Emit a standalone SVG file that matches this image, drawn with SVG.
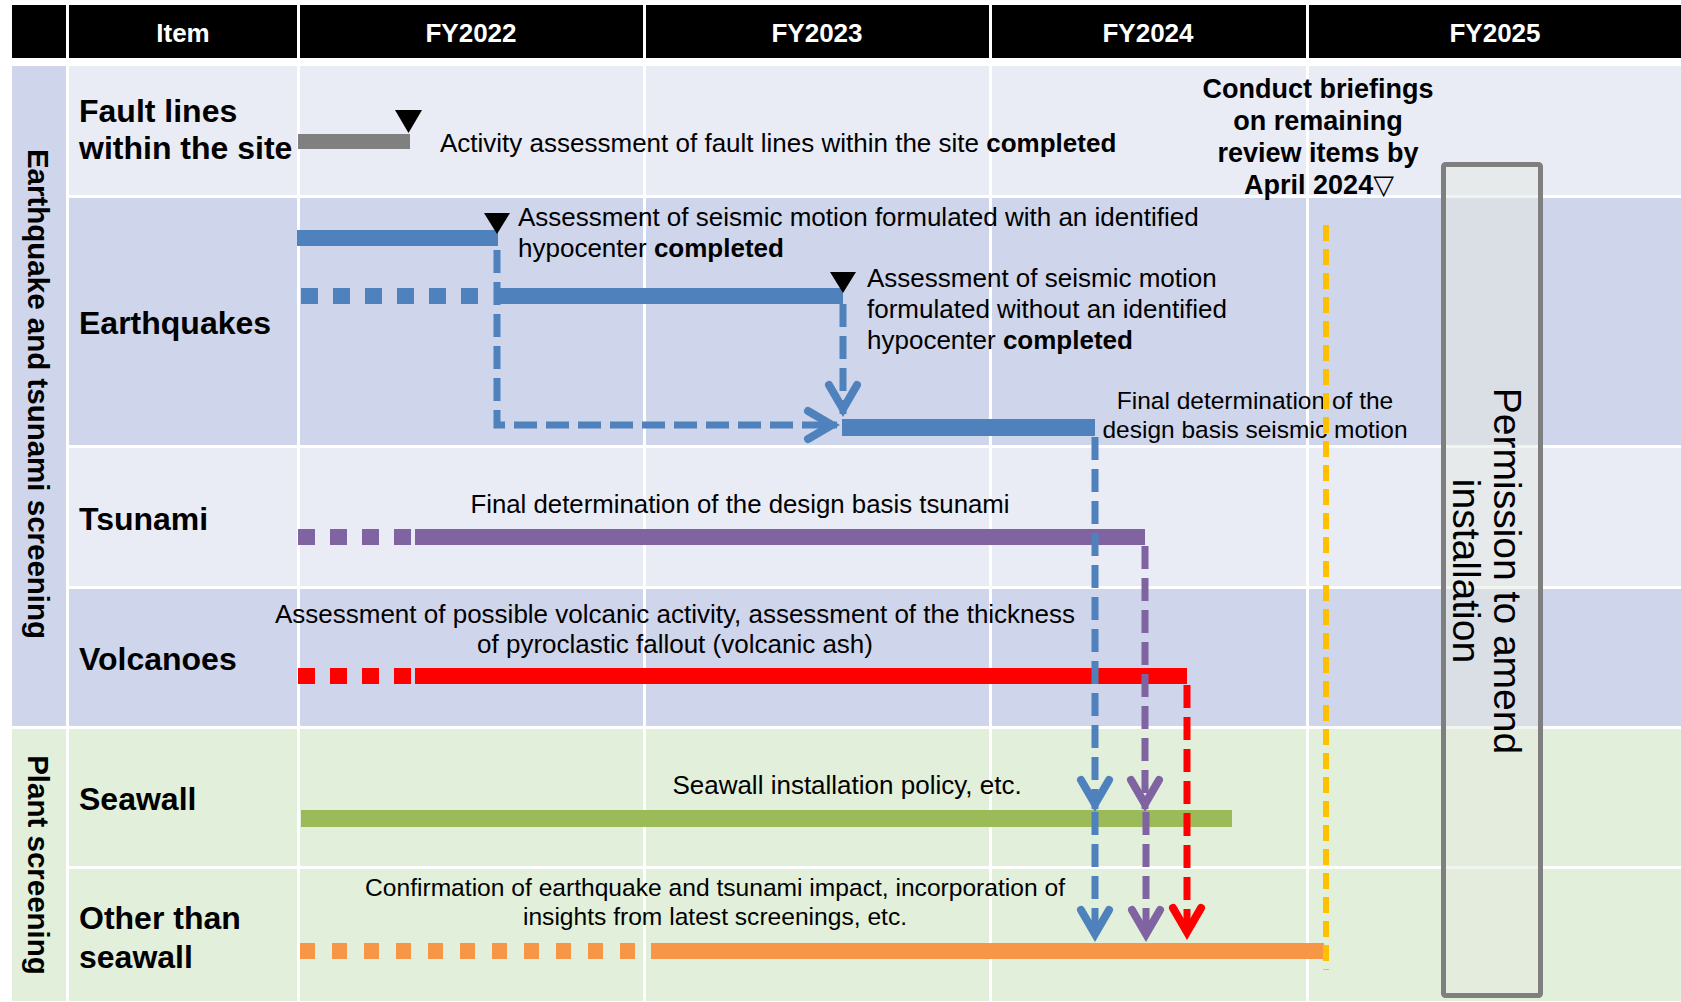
<svg xmlns="http://www.w3.org/2000/svg" width="1681" height="1002" viewBox="0 0 1681 1002">
<defs>
<style>
text{font-family:"Liberation Sans",Arial,sans-serif;fill:#000}
.hd{font-size:26px;font-weight:bold;fill:#fff;text-anchor:middle}
.lbl{font-size:32px;font-weight:bold}
.grp{font-size:29.5px;font-weight:bold;text-anchor:middle}
.t{font-size:26px}
.mid{text-anchor:middle}
.b{font-weight:bold}
.gap{stroke:#fff;stroke-width:3}
.conn{fill:none;stroke-width:7;stroke-dasharray:23 9}
.tri{fill:#000}
.bar{stroke-width:16}
.dsh{stroke-dasharray:17 15}
</style>
<marker id="ah-blue" markerUnits="userSpaceOnUse" markerWidth="44" markerHeight="44" viewBox="-40 -22 44 44" refX="0" refY="0" orient="auto" overflow="visible">
<path d="M-29,-14 L-5,0 L-29,14" fill="none" stroke="#4F81BD" stroke-width="8" stroke-linecap="round" stroke-linejoin="miter"/>
</marker>
<marker id="ah-purple" markerUnits="userSpaceOnUse" markerWidth="44" markerHeight="44" viewBox="-40 -22 44 44" refX="0" refY="0" orient="auto" overflow="visible">
<path d="M-29,-14 L-5,0 L-29,14" fill="none" stroke="#8064A2" stroke-width="8" stroke-linecap="round" stroke-linejoin="miter"/>
</marker>
<marker id="ah-red" markerUnits="userSpaceOnUse" markerWidth="44" markerHeight="44" viewBox="-40 -22 44 44" refX="0" refY="0" orient="auto" overflow="visible">
<path d="M-29,-14 L-5,0 L-29,14" fill="none" stroke="#FF0000" stroke-width="8" stroke-linecap="round" stroke-linejoin="miter"/>
</marker>
</defs>

<rect width="1681" height="1002" fill="#fff"/>

<g id="table">
<rect x="69" y="66" width="1612" height="129" fill="#E9EBF5"/>
<rect x="69" y="198" width="1612" height="247" fill="#CFD5EA"/>
<rect x="69" y="448" width="1612" height="138" fill="#E9EBF5"/>
<rect x="69" y="589" width="1612" height="137" fill="#CFD5EA"/>
<rect x="69" y="729" width="1612" height="137" fill="#E2EFDA"/>
<rect x="69" y="869" width="1612" height="132" fill="#E2EFDA"/>
<line class="gap" x1="298.5" y1="66" x2="298.5" y2="1002"/>
<line class="gap" x1="644.5" y1="66" x2="644.5" y2="1002"/>
<line class="gap" x1="990.5" y1="66" x2="990.5" y2="1002"/>
<line class="gap" x1="1307.5" y1="66" x2="1307.5" y2="1002"/>
</g>

<g id="header">
<rect x="12" y="5" width="1669" height="53" fill="#000"/>
<line class="gap" x1="67.5" y1="5" x2="67.5" y2="58"/>
<line class="gap" x1="298.5" y1="5" x2="298.5" y2="58"/>
<line class="gap" x1="644.5" y1="5" x2="644.5" y2="58"/>
<line class="gap" x1="990.5" y1="5" x2="990.5" y2="58"/>
<line class="gap" x1="1307.5" y1="5" x2="1307.5" y2="58"/>
<text class="hd" x="183" y="42">Item</text>
<text class="hd" x="471" y="42">FY2022</text>
<text class="hd" x="817" y="42">FY2023</text>
<text class="hd" x="1148" y="42">FY2024</text>
<text class="hd" x="1495" y="42">FY2025</text>
</g>

<g id="group-earthquake-tsunami">
<rect x="12" y="66" width="54" height="660" fill="#CFD5EA"/>
<text class="grp" transform="translate(28,394) rotate(90)">Earthquake and tsunami screening</text>
</g>
<g id="group-plant">
<rect x="12" y="729" width="54" height="272" fill="#E2EFDA"/>
<text class="grp" transform="translate(28,865) rotate(90)">Plant screening</text>
</g>

<g id="permission">
<rect x="1443.5" y="164.5" width="97" height="831" rx="2" fill="#E6E9E2" fill-opacity="0.5" stroke="#7F7F7F" stroke-width="5"/>
<text class="mid" font-size="39" transform="translate(1494,571) rotate(90)">Permission to amend</text>
<text class="mid" font-size="39" transform="translate(1453,571) rotate(90)">installation</text>
</g>

<g id="briefings">
<text class="mid b" font-size="27" x="1318" y="98">Conduct briefings</text>
<text class="mid b" font-size="27" x="1318" y="130">on remaining</text>
<text class="mid b" font-size="27" x="1318" y="162">review items by</text>
<text class="mid b" font-size="27" x="1319" y="194">April 2024<tspan font-family="DejaVu Sans, sans-serif">▽</tspan></text>
</g>

<g id="row-fault-lines">
<text class="lbl" x="79" y="122">Fault lines</text>
<text class="lbl" x="79" y="159">within the site</text>
<rect x="298" y="134" width="112" height="15" fill="#808080"/>
<polygon class="tri" points="395,110 422,110 408.5,133"/>
<text class="t" x="440" y="152">Activity assessment of fault lines within the site <tspan class="b">completed</tspan></text>
</g>

<g id="row-earthquakes">
<text class="lbl" x="79" y="334">Earthquakes</text>
<rect x="297" y="230" width="201" height="16" fill="#4F81BD"/>
<polygon class="tri" points="484,213 510,213 497,234"/>
<text class="t" x="518" y="226">Assessment of seismic motion formulated with an identified</text>
<text class="t" x="518" y="257">hypocenter <tspan class="b">completed</tspan></text>
<line class="bar dsh" x1="301" y1="296" x2="480" y2="296" stroke="#4F81BD"/>
<rect x="499" y="288" width="344" height="16" fill="#4F81BD"/>
<polygon class="tri" points="830,272 856,272 843,293"/>
<text class="t" x="867" y="287">Assessment of seismic motion</text>
<text class="t" x="867" y="318">formulated without an identified</text>
<text class="t" x="867" y="349">hypocenter <tspan class="b">completed</tspan></text>
<rect x="842" y="419" width="253" height="17" fill="#4F81BD"/>
<text class="mid" font-size="24.5" x="1255" y="409">Final determination of the</text>
<text class="mid" font-size="24.5" x="1255" y="438">design basis seismic motion</text>
</g>

<g id="row-tsunami">
<text class="lbl" x="79" y="530">Tsunami</text>
<line class="bar dsh" x1="298" y1="537" x2="412" y2="537" stroke="#8064A2"/>
<rect x="415" y="529" width="730" height="16" fill="#8064A2"/>
<text class="mid" font-size="25.8" x="740" y="513">Final determination of the design basis tsunami</text>
</g>

<g id="row-volcanoes">
<text class="lbl" x="79" y="670">Volcanoes</text>
<text class="t mid" x="675" y="623">Assessment of possible volcanic activity, assessment of the thickness</text>
<text class="t mid" x="675" y="653">of pyroclastic fallout (volcanic ash)</text>
<line class="bar dsh" x1="298" y1="676" x2="412" y2="676" stroke="#FF0000"/>
<rect x="415" y="668" width="772" height="16" fill="#FF0000"/>
</g>

<g id="row-seawall">
<text class="lbl" x="79" y="810">Seawall</text>
<text class="t mid" x="847" y="794">Seawall installation policy, etc.</text>
<rect x="301" y="810" width="931" height="17" fill="#9BBB59"/>
</g>

<g id="row-other">
<text class="lbl" x="79" y="929">Other than</text>
<text class="lbl" x="79" y="968">seawall</text>
<text class="mid" font-size="24.6" x="715" y="896">Confirmation of earthquake and tsunami impact, incorporation of</text>
<text class="mid" font-size="24.6" x="715" y="925">insights from latest screenings, etc.</text>
<line class="bar" x1="300" y1="951" x2="640" y2="951" stroke="#F79646" stroke-dasharray="15 17"/>
<rect x="651" y="943" width="673" height="16" fill="#F79646"/>
</g>

<g id="connectors">
<path class="conn" d="M497,250 V425 H837" stroke="#4F81BD" stroke-dasharray="18 9" marker-end="url(#ah-blue)"/>
<path class="conn" d="M843,304 V414" stroke="#4F81BD" marker-end="url(#ah-blue)"/>
<path class="conn" d="M1095,437 V809" stroke="#4F81BD" marker-end="url(#ah-blue)"/>
<path class="conn" d="M1095,812 V939" stroke="#4F81BD" marker-end="url(#ah-blue)"/>
<path class="conn" d="M1145,546 V809" stroke="#8064A2" marker-end="url(#ah-purple)"/>
<path class="conn" d="M1146,812 V939" stroke="#8064A2" marker-end="url(#ah-purple)"/>
<path class="conn" d="M1187,685 V937" stroke="#FF0000" marker-end="url(#ah-red)"/>
<line x1="1326" y1="225" x2="1326" y2="970" stroke="#FFC000" stroke-width="6" stroke-dasharray="16 8"/>
</g>
</svg>
